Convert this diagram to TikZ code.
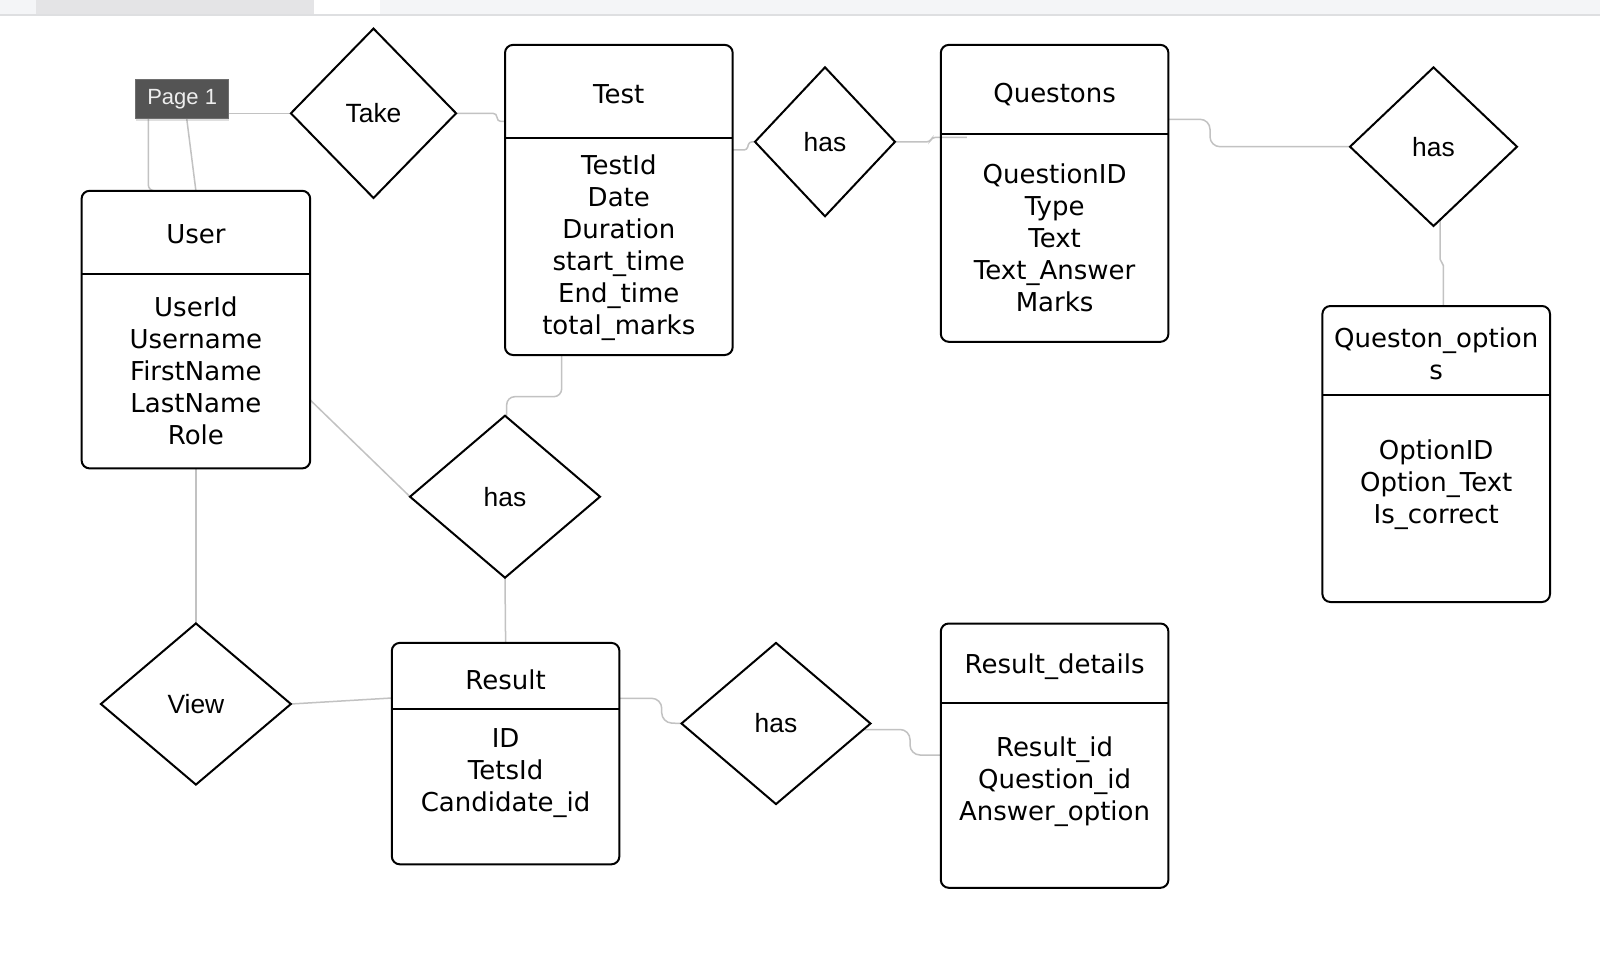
\documentclass[tikz,border=0pt]{standalone}
\usepackage{fontspec}
\usetikzlibrary{shapes.geometric,fit,calc,shadows,backgrounds}
\newfontfamily\entfont{DejaVu Sans}
\newfontfamily\relfont{Liberation Sans}
\definecolor{conncol}{HTML}{C2C2C2}
\definecolor{barcol}{HTML}{F4F5F7}
\definecolor{tabcol}{HTML}{E4E4E6}
\definecolor{barline}{HTML}{DEDFE1}
\definecolor{pagefill}{HTML}{545454}
\definecolor{pagetext}{HTML}{EEEEEE}
\begin{document}
\begin{tikzpicture}[x=0.5pt,y=-0.5pt,
  entity/.style={draw=black, line width=1pt, rounded corners=4pt, inner sep=0pt, outer sep=0pt},
  rel/.style={diamond, draw=black, line width=1pt, inner sep=0pt, outer sep=0pt,
    font=\relfont\fontsize{13.2}{16}\selectfont},
  etext/.style={font=\entfont\fontsize{13}{16}\selectfont, align=center, inner sep=0pt},
  conn/.style={draw=conncol, line width=0.75pt, rounded corners=3pt},
  sepline/.style={draw=black, line width=1pt},
  pagebox/.style={fill=pagefill, draw=pagefill!85!white, line width=0.5pt, inner sep=0pt, outer sep=0pt,
    drop shadow={opacity=0.25, shadow xshift=0pt, shadow yshift=-1.5pt}},
  pagelbl/.style={font=\relfont\fontsize{11}{12}\selectfont, text=pagetext, inner sep=0pt}]
\useasboundingbox (0,0) rectangle (1600,968);

% entities
\node[entity, fit={(81.6,190.8) (310.2,468.4)}] (user) {};
\node[entity, fit={(505,44.9) (732.7,355)}] (test) {};
\node[entity, fit={(940.8,44.9) (1168.4,341.8)}] (quest) {};
\node[entity, fit={(1322.4,306) (1550,602)}] (opt) {};
\node[entity, fit={(391.8,642.9) (619.4,864.3)}] (result) {};
\node[entity, fit={(940.8,623.5) (1168.4,887.8)}] (rdet) {};

\draw[sepline] (user.west |- 0,274.5) -- (user.east |- 0,274.5);
\draw[sepline] (test.west |- 0,137.8) -- (test.east |- 0,137.8);
\draw[sepline] (quest.west |- 0,133.7) -- (quest.east |- 0,133.7);
\draw[sepline] (opt.west |- 0,395) -- (opt.east |- 0,395);
\draw[sepline] (result.west |- 0,709.2) -- (result.east |- 0,709.2);
\draw[sepline] (rdet.west |- 0,703) -- (rdet.east |- 0,703);

\node[etext] (userT) at (195.9,234.5) {User};
\node[etext] (userA) at (195.9,370.5) {UserId\\Username\\FirstName\\LastName\\Role};
\node[etext] (testT) at (618.8,94.5) {Test};
\node[etext] (testA) at (618.8,248) {TestId\\Date\\Duration\\start\_time\\End\_time\\total\_marks};
\node[etext] (questT) at (1054.6,95) {Questons};
\node[etext] (questA) at (1054.6,238.3) {QuestionID\\Type\\Text\\Text\_Answer\\Marks};
\node[etext] (optT) at (1436.2,353.5) {Queston\_option\\s};
\node[etext] (optA) at (1436.2,485) {OptionID\\Option\_Text\\Is\_correct};
\node[etext] (resultT) at (505.6,679.5) {Result};
\node[etext] (resultA) at (505.6,773) {ID\\TetsId\\Candidate\_id};
\node[etext] (rdetT) at (1054.6,666.5) {Result\_details};
\node[etext] (rdetA) at (1054.6,782) {Result\_id\\Question\_id\\Answer\_option};

% relationships
\node[rel, minimum width=82.6pt, minimum height=84.7pt] (take) at (373.5,113.3) {Take};
\node[rel, minimum width=70pt, minimum height=74.5pt] (has1) at (825,141.8) {has};
\node[rel, minimum width=83.5pt, minimum height=79.3pt] (has2) at (1433.5,146.7) {has};
\node[rel, minimum width=95pt, minimum height=81pt] (has3) at (505,496.7) {has};
\node[rel, minimum width=95pt, minimum height=80.6pt] (view) at (195.9,704) {View};
\node[rel, minimum width=94.5pt, minimum height=80.6pt] (has4) at (776,723.5) {has};

% page label
\node[pagebox, fit={(135.7,79.6) (228.6,118.4)}] (page) {};
\node[pagelbl] (pageT) at (page.center) {Page 1};

% background, top bar and connectors
\begin{scope}[on background layer]
\fill[white] (0,0) rectangle (1600,968);
\fill[barcol] (0,0) rectangle (1600,14.5);
\fill[tabcol] (36,0) rectangle (314,14.5);
\fill[white] (314,0) rectangle (380,14.5);
\fill[barline] (0,14.5) rectangle (1600,16.5);
\draw[conn] (page.east |- take.west) -- (take.west);
\draw[conn] ($(page.south west)+(12.6,0)$) |- (user.north);
\draw[conn] ($(page.south west)+(51,0)$) -- (user.north);
\draw[conn, rounded corners=2pt] (take.east) -- (497,0 |- take.east) -- (497,121.5) -- (test.west |- 0,121.5);
\draw[conn, rounded corners=1.5pt] (test.east |- 0,150) -- (747,150) -- (749,141.8) -- (has1.west);
\draw[conn, rounded corners=1.5pt] (has1.east) -- (930,0 |- has1.east) -- (932,137.5) -- ($(quest.west |- 0,137.5)+(26,0)$);
\draw[conn, rounded corners=5pt] (quest.east |- 0,119.3) -- (1210,119.3) -- (1210,146.7) -- (has2.west);
\draw[conn, rounded corners=1pt] ($(has2.south)+(6.5,-6.2)$) -- (1440,261) -- (1443.3,263.5) -- (1443.3,0 |- opt.north);
\draw[conn, rounded corners=4pt] (561.7,0 |- test.south) -- (561.7,396.7) -- (506.7,396.7) -- (506.7,0 |- has3.north);
\draw[conn] (user.east |- 0,400) -- (has3.west);
\draw[conn] (user.south) -- (view.north);
\draw[conn] (view.east) -- (result.west |- 0,698);
\draw[conn] (has3.south) -- (result.north);
\draw[conn, rounded corners=5pt] (result.east |- 0,698.3) -- (661.7,698.3) -- (661.7,722.7) -- (has4.west);
\draw[conn, rounded corners=5pt] ($(has4.east)+(-7,6)$) -- (910,729.5) -- (910,755) -- (rdet.west |- 0,755);
\end{scope}
\end{tikzpicture}
\end{document}
